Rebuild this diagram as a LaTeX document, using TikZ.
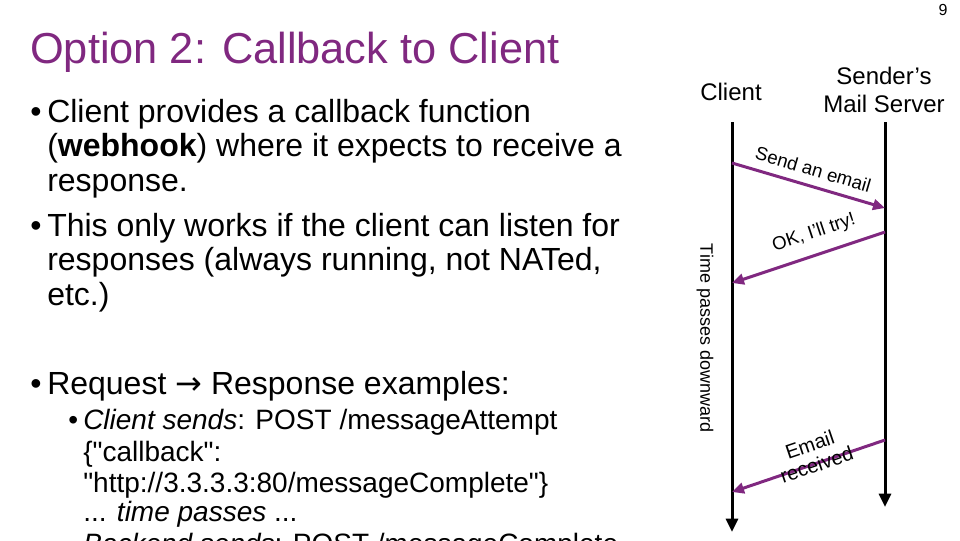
\documentclass[tikz,border=0pt]{standalone}
\usepackage{fontspec}
\setmainfont{Liberation Sans}[Ligatures=TeXOff]
\newfontfamily\arrowfont{DejaVu Sans}
\usetikzlibrary{arrows.meta}
\definecolor{plum}{RGB}{128,40,128}
\tikzset{
  ttl/.style={anchor=base west, inner sep=0pt, text=plum, font=\fontsize{32.5}{40}\selectfont},
  body/.style={anchor=base west, inner sep=0pt, font=\fontsize{24}{29}\selectfont},
  sub/.style={anchor=base west, inner sep=0pt, font=\fontsize{21}{25}\selectfont},
  hdr/.style={align=center, inner sep=0pt, font=\fontsize{18}{21}\selectfont},
  lbl/.style={font=\fontsize{14}{16}\selectfont, text=black, sloped, align=center},
  life/.style={line width=2.25pt, -{Triangle[length=10pt,width=9pt]}},
  msg/.style={plum, line width=2.25pt, -{Triangle[length=9pt,width=8pt]}},
}

\begin{document}
\begin{tikzpicture}[x=0.75pt, y=-0.75pt]
  \useasboundingbox (0,0) rectangle (960,540);
  \clip (0,0) rectangle (960,540);
  % title and page number
  \node[inner sep=0pt, font=\fontsize{12}{14}\selectfont] (pg) at (943,10) {9};
  \node[ttl] (title) at (30,63) {Option 2: Callback to Client};
  % bullets
  \node[body] (d1) at (30,122) {\textbullet};
  \node[body] (t1a) at (47,122) {Client provides a callback function};
  \node[body] (t1b) at (47,156) {(\textbf{webhook}) where it expects to receive a};
  \node[body] (t1c) at (47,191) {response.};
  \node[body] (d2) at (30,236) {\textbullet};
  \node[body] (t2a) at (47,236) {This only works if the client can listen for};
  \node[body] (t2b) at (47,270) {responses (always running, not NATed,};
  \node[body] (t2c) at (47,305) {etc.)};
  \node[body] (d3) at (30,394) {\textbullet};
  \node[body] (t3) at (47,394) {Request {\arrowfont →} Response examples:};
  \node[sub] (d4) at (68,429) {\textbullet};
  \node[sub] (t4a) at (83,429) {\textit{Client sends}: POST /messageAttempt};
  \node[sub] (t4b) at (83,461) {\{"callback":};
  \node[sub] (t4c) at (83,492) {"http://3.3.3.3:80/messageComplete"\}};
  \node[sub] (t4d) at (83,521) {... \textit{time passes} ...};
  \node[sub] (t4e) at (83,553) {\textit{Backend sends}: POST /messageComplete};
  % sequence diagram
  \node[hdr] (cli) at (731,92) {Client};
  \node[hdr] (srv) at (884,90) {Sender’s\\Mail Server};
  \coordinate (cTop) at (732,122);
  \coordinate (cBot) at (732,532);
  \coordinate (sTop) at (885,122);
  \coordinate (sBot) at (885,507);
  \draw[life] (cTop) -- (cBot);
  \draw[life] (sTop) -- (sBot);
  \node[rotate=-90, inner sep=0pt, font=\fontsize{13.5}{16}\selectfont] (time) at (705,338) {Time passes downward};
  \coordinate (m1a) at (732,163);
  \coordinate (m1b) at (885,208);
  \coordinate (m2a) at (885,232);
  \coordinate (m2b) at (732,283);
  \coordinate (m3a) at (885,440);
  \coordinate (m3b) at (732,492);
  \draw[msg] (m1a) -- node[lbl, pos=0.5, above=3pt] {Send an email} (m1b);
  \draw[msg] (m2a) -- node[lbl, pos=0.42, above=5pt] {OK, I’ll try!} (m2b);
  \draw[msg] (m3a) -- node[lbl, pos=0.45, above=-11pt, font=\fontsize{15}{16}\selectfont] {Email\\received} (m3b);
\end{tikzpicture}
\end{document}
